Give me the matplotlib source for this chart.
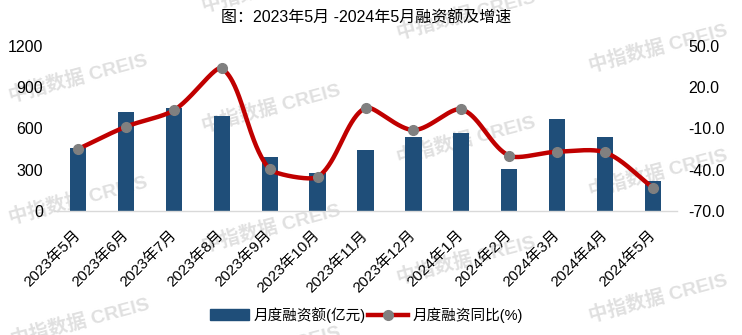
import numpy as np
import matplotlib
matplotlib.use("Agg")
import matplotlib.pyplot as plt
from matplotlib.lines import Line2D
from matplotlib.patches import Patch

plt.rcParams['font.family'] = ['Liberation Sans', 'Noto Sans CJK SC', 'DejaVu Sans']
plt.rcParams['axes.unicode_minus'] = False

# Monthly financing data
months = ['2023年5月', '2023年6月', '2023年7月', '2023年8月', '2023年9月', '2023年10月',
          '2023年11月', '2023年12月', '2024年1月', '2024年2月', '2024年3月', '2024年4月', '2024年5月']
amount = [458, 722, 752, 690, 395, 276, 445, 540, 568, 305, 670, 540, 218]        # 亿元
yoy = [-25.0, -8.7, 3.2, 33.7, -39.7, -45.3, 5.0, -11.1, 3.9, -29.8, -26.9, -27.4, -53.1]  # %

left_ticks = [0, 300, 600, 900, 1200]
right_ticks = [-70, -40, -10, 20, 50]

BAR_COLOR = '#1F4E79'
LINE_COLOR = '#C00000'
MARKER_COLOR = '#808080'
WM_COLOR = '#e0e0e0'

W, H = 742, 335
fig = plt.figure(figsize=(W / 100, H / 100), dpi=100)

# watermark grid (pixel centres)
wm_pos = [(78, 78), (78, 200), (80, 322),
          (271, -12), (271, 108), (271, 228), (271, 350),
          (466, 15), (466, 140), (466, 260),
          (658, 48), (658, 173), (658, 298)]
for (px, py) in wm_pos:
    fig.text(px / W, 1 - py / H, '中指数据 CREIS', rotation=15, ha='center', va='center',
             fontsize=14, fontweight='bold', color=WM_COLOR, zorder=-5)

ax = fig.add_axes([54 / W, 1 - 211 / H, (677 - 54) / W, (211 - 46) / H])
ax.set_facecolor('none')
ax2 = ax.twinx()
ax2.set_facecolor('none')

x = np.arange(len(months))
ax.bar(x, amount, width=0.34, color=BAR_COLOR, zorder=2, label='月度融资额(亿元)')

ax.set_xlim(-0.5, len(months) - 0.5)
ax.set_ylim(0, 1200)
ax.set_yticks(left_ticks)
ax.set_yticklabels([str(t) for t in left_ticks], fontsize=11.5)
ax2.set_ylim(-70, 50)
ax2.set_yticks(right_ticks)
ax2.set_yticklabels([f'{t:.1f}' for t in right_ticks], fontsize=11.5)

ax.set_xticks(x)
ax.set_xticklabels(months, rotation=45, ha='right', va='center', rotation_mode='anchor', fontsize=11)
ax.tick_params(axis='x', length=0, pad=16)
ax.tick_params(axis='y', length=0, pad=8)
ax2.tick_params(axis='y', length=0, pad=8)

for a in (ax, ax2):
    for s in a.spines.values():
        s.set_visible(False)
ax.spines['bottom'].set_visible(True)
ax.spines['bottom'].set_color('#d9d9d9')
ax.spines['bottom'].set_linewidth(1.0)

# smoothed growth curve: cubic Bezier segments built in display space; the
# control arms shrink on the shorter side of each point to avoid overshoot
pts = ax2.transData.transform(np.column_stack([x, yoy]))
n = len(pts)
seg_len = np.linalg.norm(np.diff(pts, axis=0), axis=1)
arm_out, arm_in = [], []
for i in range(n):
    prev_p = pts[i - 1] if i > 0 else pts[i]
    next_p = pts[i + 1] if i < n - 1 else pts[i]
    tan = next_p - prev_p
    d_in = seg_len[i - 1] if i > 0 else 0.0
    d_out = seg_len[i] if i < n - 1 else 0.0
    tot = d_in + d_out
    dmax = max(d_in, d_out)
    k_in = (d_in / tot) * (d_in / dmax) / 3 if tot > 0 else 0.0
    k_out = (d_out / tot) * (d_out / dmax) / 3 if tot > 0 else 0.0
    arm_in.append(tan * k_in)
    arm_out.append(tan * k_out)
curve = []
t = np.linspace(0, 1, 60)[:, None]
for i in range(n - 1):
    p0, p3 = pts[i], pts[i + 1]
    p1 = p0 + arm_out[i]
    p2 = p3 - arm_in[i + 1]
    seg = ((1 - t) ** 3) * p0 + 3 * ((1 - t) ** 2) * t * p1 + 3 * (1 - t) * t ** 2 * p2 + t ** 3 * p3
    curve.append(seg if i == 0 else seg[1:])
curve = ax2.transData.inverted().transform(np.vstack(curve))
ax2.plot(curve[:, 0], curve[:, 1], color=LINE_COLOR, lw=3.2, zorder=3, solid_capstyle='round')
ax2.plot(x, yoy, 'o', color=MARKER_COLOR, ms=7, zorder=4)

title = '图：2023年5月 -2024年5月融资额及增速'
fig.text(366 / W, 1 - 18 / H, title, ha='center', va='center', fontsize=11.5)

handles = [Patch(color=BAR_COLOR, label='月度融资额(亿元)'),
           Line2D([], [], color=LINE_COLOR, lw=3.2, marker='o', mfc=MARKER_COLOR, mec=MARKER_COLOR,
                  ms=7, label='月度融资同比(%)')]
fig.legend(handles=handles, loc='center', bbox_to_anchor=(366 / W, 1 - 315 / H), ncol=2,
           frameon=False, fontsize=10.5, handlelength=2.7, handletextpad=0.3, columnspacing=0.2,
           handleheight=0.75)

fig.savefig('out.png', dpi=100)
